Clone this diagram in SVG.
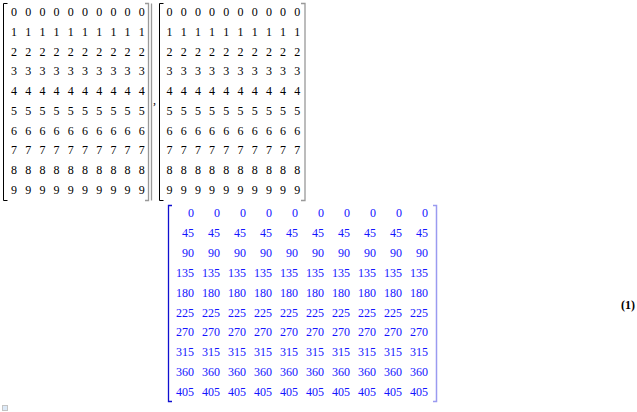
<svg xmlns="http://www.w3.org/2000/svg" width="637" height="412" viewBox="0 0 637 412">
<style>
.k{font-family:"Liberation Serif","Times New Roman",serif;font-size:12px;fill:#000;text-anchor:middle}
.b{font-family:"Liberation Serif","Times New Roman",serif;font-size:12px;fill:#1414ff;text-anchor:end}
.lb{fill:none;stroke:#000;stroke-width:1}
.rb{fill:none;stroke:#999;stroke-width:1.3}
.blb{fill:none;stroke:#1010d0;stroke-width:1.3}
.brb{fill:none;stroke:#9a9af0;stroke-width:1.5}
.lab{font-family:"Liberation Serif","Times New Roman",serif;font-size:12px;font-weight:bold;text-anchor:end;fill:#000}
</style>
<rect width="637" height="412" fill="#fff"/>
<g id="matrix1">
<path class="lb" d="M7.5,3.5 H3.5 V200.5 H7.5"/>
<path class="rb" d="M145,3.5 H148.5 V200.5 H145 M151.5,3.5 V200.5"/>
<text class="k" y="16"><tspan x="14">0</tspan><tspan x="28.2">0</tspan><tspan x="42.4">0</tspan><tspan x="56.6">0</tspan><tspan x="70.8">0</tspan><tspan x="85">0</tspan><tspan x="99.2">0</tspan><tspan x="113.4">0</tspan><tspan x="127.6">0</tspan><tspan x="141.8">0</tspan></text>
<text class="k" y="35.75"><tspan x="14">1</tspan><tspan x="28.2">1</tspan><tspan x="42.4">1</tspan><tspan x="56.6">1</tspan><tspan x="70.8">1</tspan><tspan x="85">1</tspan><tspan x="99.2">1</tspan><tspan x="113.4">1</tspan><tspan x="127.6">1</tspan><tspan x="141.8">1</tspan></text>
<text class="k" y="55.5"><tspan x="14">2</tspan><tspan x="28.2">2</tspan><tspan x="42.4">2</tspan><tspan x="56.6">2</tspan><tspan x="70.8">2</tspan><tspan x="85">2</tspan><tspan x="99.2">2</tspan><tspan x="113.4">2</tspan><tspan x="127.6">2</tspan><tspan x="141.8">2</tspan></text>
<text class="k" y="75.25"><tspan x="14">3</tspan><tspan x="28.2">3</tspan><tspan x="42.4">3</tspan><tspan x="56.6">3</tspan><tspan x="70.8">3</tspan><tspan x="85">3</tspan><tspan x="99.2">3</tspan><tspan x="113.4">3</tspan><tspan x="127.6">3</tspan><tspan x="141.8">3</tspan></text>
<text class="k" y="95"><tspan x="14">4</tspan><tspan x="28.2">4</tspan><tspan x="42.4">4</tspan><tspan x="56.6">4</tspan><tspan x="70.8">4</tspan><tspan x="85">4</tspan><tspan x="99.2">4</tspan><tspan x="113.4">4</tspan><tspan x="127.6">4</tspan><tspan x="141.8">4</tspan></text>
<text class="k" y="114.75"><tspan x="14">5</tspan><tspan x="28.2">5</tspan><tspan x="42.4">5</tspan><tspan x="56.6">5</tspan><tspan x="70.8">5</tspan><tspan x="85">5</tspan><tspan x="99.2">5</tspan><tspan x="113.4">5</tspan><tspan x="127.6">5</tspan><tspan x="141.8">5</tspan></text>
<text class="k" y="134.5"><tspan x="14">6</tspan><tspan x="28.2">6</tspan><tspan x="42.4">6</tspan><tspan x="56.6">6</tspan><tspan x="70.8">6</tspan><tspan x="85">6</tspan><tspan x="99.2">6</tspan><tspan x="113.4">6</tspan><tspan x="127.6">6</tspan><tspan x="141.8">6</tspan></text>
<text class="k" y="154.25"><tspan x="14">7</tspan><tspan x="28.2">7</tspan><tspan x="42.4">7</tspan><tspan x="56.6">7</tspan><tspan x="70.8">7</tspan><tspan x="85">7</tspan><tspan x="99.2">7</tspan><tspan x="113.4">7</tspan><tspan x="127.6">7</tspan><tspan x="141.8">7</tspan></text>
<text class="k" y="174"><tspan x="14">8</tspan><tspan x="28.2">8</tspan><tspan x="42.4">8</tspan><tspan x="56.6">8</tspan><tspan x="70.8">8</tspan><tspan x="85">8</tspan><tspan x="99.2">8</tspan><tspan x="113.4">8</tspan><tspan x="127.6">8</tspan><tspan x="141.8">8</tspan></text>
<text class="k" y="193.75"><tspan x="14">9</tspan><tspan x="28.2">9</tspan><tspan x="42.4">9</tspan><tspan x="56.6">9</tspan><tspan x="70.8">9</tspan><tspan x="85">9</tspan><tspan x="99.2">9</tspan><tspan x="113.4">9</tspan><tspan x="127.6">9</tspan><tspan x="141.8">9</tspan></text>
</g>
<g id="comma"><text class="k" x="154.5" y="104">,</text></g>
<g id="matrix2">
<path class="lb" d="M163.5,3.5 H159.5 V200.5 H163.5"/>
<path class="rb" d="M301,3.5 H305 V200.5 H301"/>
<text class="k" y="16"><tspan x="169.5">0</tspan><tspan x="183.7">0</tspan><tspan x="197.9">0</tspan><tspan x="212.1">0</tspan><tspan x="226.3">0</tspan><tspan x="240.5">0</tspan><tspan x="254.7">0</tspan><tspan x="268.9">0</tspan><tspan x="283.1">0</tspan><tspan x="297.3">0</tspan></text>
<text class="k" y="35.75"><tspan x="169.5">1</tspan><tspan x="183.7">1</tspan><tspan x="197.9">1</tspan><tspan x="212.1">1</tspan><tspan x="226.3">1</tspan><tspan x="240.5">1</tspan><tspan x="254.7">1</tspan><tspan x="268.9">1</tspan><tspan x="283.1">1</tspan><tspan x="297.3">1</tspan></text>
<text class="k" y="55.5"><tspan x="169.5">2</tspan><tspan x="183.7">2</tspan><tspan x="197.9">2</tspan><tspan x="212.1">2</tspan><tspan x="226.3">2</tspan><tspan x="240.5">2</tspan><tspan x="254.7">2</tspan><tspan x="268.9">2</tspan><tspan x="283.1">2</tspan><tspan x="297.3">2</tspan></text>
<text class="k" y="75.25"><tspan x="169.5">3</tspan><tspan x="183.7">3</tspan><tspan x="197.9">3</tspan><tspan x="212.1">3</tspan><tspan x="226.3">3</tspan><tspan x="240.5">3</tspan><tspan x="254.7">3</tspan><tspan x="268.9">3</tspan><tspan x="283.1">3</tspan><tspan x="297.3">3</tspan></text>
<text class="k" y="95"><tspan x="169.5">4</tspan><tspan x="183.7">4</tspan><tspan x="197.9">4</tspan><tspan x="212.1">4</tspan><tspan x="226.3">4</tspan><tspan x="240.5">4</tspan><tspan x="254.7">4</tspan><tspan x="268.9">4</tspan><tspan x="283.1">4</tspan><tspan x="297.3">4</tspan></text>
<text class="k" y="114.75"><tspan x="169.5">5</tspan><tspan x="183.7">5</tspan><tspan x="197.9">5</tspan><tspan x="212.1">5</tspan><tspan x="226.3">5</tspan><tspan x="240.5">5</tspan><tspan x="254.7">5</tspan><tspan x="268.9">5</tspan><tspan x="283.1">5</tspan><tspan x="297.3">5</tspan></text>
<text class="k" y="134.5"><tspan x="169.5">6</tspan><tspan x="183.7">6</tspan><tspan x="197.9">6</tspan><tspan x="212.1">6</tspan><tspan x="226.3">6</tspan><tspan x="240.5">6</tspan><tspan x="254.7">6</tspan><tspan x="268.9">6</tspan><tspan x="283.1">6</tspan><tspan x="297.3">6</tspan></text>
<text class="k" y="154.25"><tspan x="169.5">7</tspan><tspan x="183.7">7</tspan><tspan x="197.9">7</tspan><tspan x="212.1">7</tspan><tspan x="226.3">7</tspan><tspan x="240.5">7</tspan><tspan x="254.7">7</tspan><tspan x="268.9">7</tspan><tspan x="283.1">7</tspan><tspan x="297.3">7</tspan></text>
<text class="k" y="174"><tspan x="169.5">8</tspan><tspan x="183.7">8</tspan><tspan x="197.9">8</tspan><tspan x="212.1">8</tspan><tspan x="226.3">8</tspan><tspan x="240.5">8</tspan><tspan x="254.7">8</tspan><tspan x="268.9">8</tspan><tspan x="283.1">8</tspan><tspan x="297.3">8</tspan></text>
<text class="k" y="193.75"><tspan x="169.5">9</tspan><tspan x="183.7">9</tspan><tspan x="197.9">9</tspan><tspan x="212.1">9</tspan><tspan x="226.3">9</tspan><tspan x="240.5">9</tspan><tspan x="254.7">9</tspan><tspan x="268.9">9</tspan><tspan x="283.1">9</tspan><tspan x="297.3">9</tspan></text>
</g>
<g id="matrix3">
<path class="blb" d="M172,205.5 H168.5 V401.5 H172"/>
<path class="brb" d="M433,205.5 H436.5 V401.5 H433"/>
<text class="b" y="217"><tspan x="194">0</tspan><tspan x="220">0</tspan><tspan x="246">0</tspan><tspan x="272">0</tspan><tspan x="298">0</tspan><tspan x="324">0</tspan><tspan x="350">0</tspan><tspan x="376">0</tspan><tspan x="402">0</tspan><tspan x="428">0</tspan></text>
<text class="b" y="236.9"><tspan x="194">45</tspan><tspan x="220">45</tspan><tspan x="246">45</tspan><tspan x="272">45</tspan><tspan x="298">45</tspan><tspan x="324">45</tspan><tspan x="350">45</tspan><tspan x="376">45</tspan><tspan x="402">45</tspan><tspan x="428">45</tspan></text>
<text class="b" y="256.8"><tspan x="194">90</tspan><tspan x="220">90</tspan><tspan x="246">90</tspan><tspan x="272">90</tspan><tspan x="298">90</tspan><tspan x="324">90</tspan><tspan x="350">90</tspan><tspan x="376">90</tspan><tspan x="402">90</tspan><tspan x="428">90</tspan></text>
<text class="b" y="276.7"><tspan x="194">135</tspan><tspan x="220">135</tspan><tspan x="246">135</tspan><tspan x="272">135</tspan><tspan x="298">135</tspan><tspan x="324">135</tspan><tspan x="350">135</tspan><tspan x="376">135</tspan><tspan x="402">135</tspan><tspan x="428">135</tspan></text>
<text class="b" y="296.6"><tspan x="194">180</tspan><tspan x="220">180</tspan><tspan x="246">180</tspan><tspan x="272">180</tspan><tspan x="298">180</tspan><tspan x="324">180</tspan><tspan x="350">180</tspan><tspan x="376">180</tspan><tspan x="402">180</tspan><tspan x="428">180</tspan></text>
<text class="b" y="316.5"><tspan x="194">225</tspan><tspan x="220">225</tspan><tspan x="246">225</tspan><tspan x="272">225</tspan><tspan x="298">225</tspan><tspan x="324">225</tspan><tspan x="350">225</tspan><tspan x="376">225</tspan><tspan x="402">225</tspan><tspan x="428">225</tspan></text>
<text class="b" y="336.4"><tspan x="194">270</tspan><tspan x="220">270</tspan><tspan x="246">270</tspan><tspan x="272">270</tspan><tspan x="298">270</tspan><tspan x="324">270</tspan><tspan x="350">270</tspan><tspan x="376">270</tspan><tspan x="402">270</tspan><tspan x="428">270</tspan></text>
<text class="b" y="356.3"><tspan x="194">315</tspan><tspan x="220">315</tspan><tspan x="246">315</tspan><tspan x="272">315</tspan><tspan x="298">315</tspan><tspan x="324">315</tspan><tspan x="350">315</tspan><tspan x="376">315</tspan><tspan x="402">315</tspan><tspan x="428">315</tspan></text>
<text class="b" y="376.2"><tspan x="194">360</tspan><tspan x="220">360</tspan><tspan x="246">360</tspan><tspan x="272">360</tspan><tspan x="298">360</tspan><tspan x="324">360</tspan><tspan x="350">360</tspan><tspan x="376">360</tspan><tspan x="402">360</tspan><tspan x="428">360</tspan></text>
<text class="b" y="396.1"><tspan x="194">405</tspan><tspan x="220">405</tspan><tspan x="246">405</tspan><tspan x="272">405</tspan><tspan x="298">405</tspan><tspan x="324">405</tspan><tspan x="350">405</tspan><tspan x="376">405</tspan><tspan x="402">405</tspan><tspan x="428">405</tspan></text>
</g>
<g id="label"><text class="lab" x="635" y="309">(1)</text></g>
<g id="icon"><rect x="2.5" y="405.5" width="5" height="5" fill="#dce9f7" stroke="#c4c4c4" stroke-width="1"/></g>
</svg>
